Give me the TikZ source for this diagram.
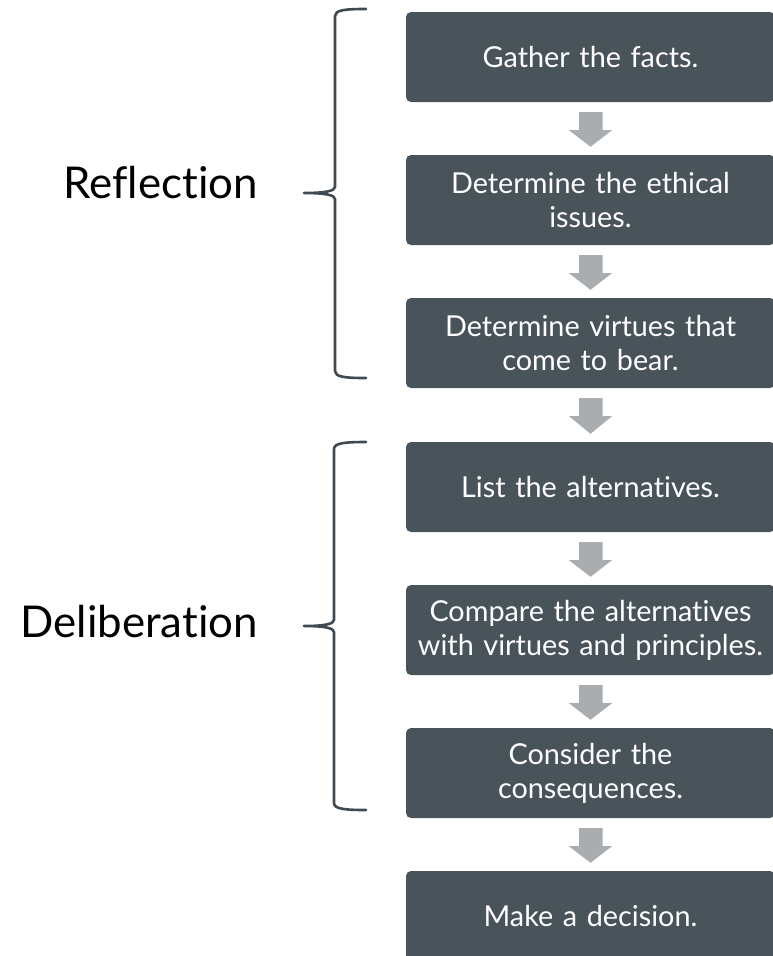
\documentclass[tikz,border=0pt]{standalone}
\usepackage{fontspec}
\setmainfont{Lato}[Ligatures={NoCommon,NoRare}]
\usetikzlibrary{calc}
\definecolor{boxc}{RGB}{72,83,90}
\definecolor{arrc}{RGB}{169,173,176}
\definecolor{bracec}{RGB}{64,73,79}
\tikzset{
  stepbox/.style={rectangle, rounded corners=5pt, fill=boxc, text=white,
    minimum width=369pt, minimum height=90pt, inner sep=0pt,
    text width=366pt, align=center, font=\fontsize{28.8}{34}\selectfont},
  bigarrow/.style={fill=arrc},
  bracepath/.style={draw=bracec, line width=2.6pt, line cap=round, line join=round},
  grouplabel/.style={anchor=base east, inner sep=0pt, font=\fontsize{43.8}{50}\selectfont, text=black}
}
\begin{document}
\begin{tikzpicture}[x=1pt,y=-1pt]
\useasboundingbox (0,0) rectangle (772,956);
\node[stepbox] (b1) at (590.5,57) {Gather the facts.};
\node[stepbox] (b2) at (590.5,200) {Determine the ethical\\issues.};
\node[stepbox] (b3) at (590.5,343) {Determine virtues that\\come to bear.};
\node[stepbox] (b4) at (590.5,487) {List the alternatives.};
\node[stepbox] (b5) at (590.5,630) {Compare the alternatives\\with virtues and principles.};
\node[stepbox] (b6) at (590.5,773) {Consider the\\consequences.};
\node[stepbox] (b7) at (590.5,916) {Make a decision.};
\foreach \a/\b in {b1/b2,b2/b3,b3/b4,b4/b5,b5/b6,b6/b7}{
  \fill[bigarrow] ($(\a.south)+(-11.5,10)$) -- ($(\a.south)+(12,10)$) -- ($(\a.south)+(12,28)$)
    -- ($(\a.south)+(21.5,28)$) -- ($(\b.north)+(0,-8)$) -- ($(\a.south)+(-21.5,28)$)
    -- ($(\a.south)+(-11.5,28)$) -- cycle;
}
% Reflection brace
\draw[bracepath] (366,9) .. controls (345,9) and (335,10) .. (335,16) -- (335,187)
  .. controls (335,191) and (325,193) .. (304,193)
  .. controls (325,193) and (335,195) .. (335,199) -- (335,371)
  .. controls (335,377) and (345,378) .. (366,378);
% Deliberation brace
\draw[bracepath] (366,442) .. controls (345,442) and (334,443) .. (334,449) -- (334,620)
  .. controls (334,624) and (324,626) .. (304,626)
  .. controls (324,626) and (334,628) .. (334,632) -- (334,803)
  .. controls (334,809) and (345,810) .. (366,810);
\node[grouplabel] (refl) at (258,198) {Reflection};
\node[grouplabel] (delib) at (258,637) {Deliberation};
\end{tikzpicture}
\end{document}
